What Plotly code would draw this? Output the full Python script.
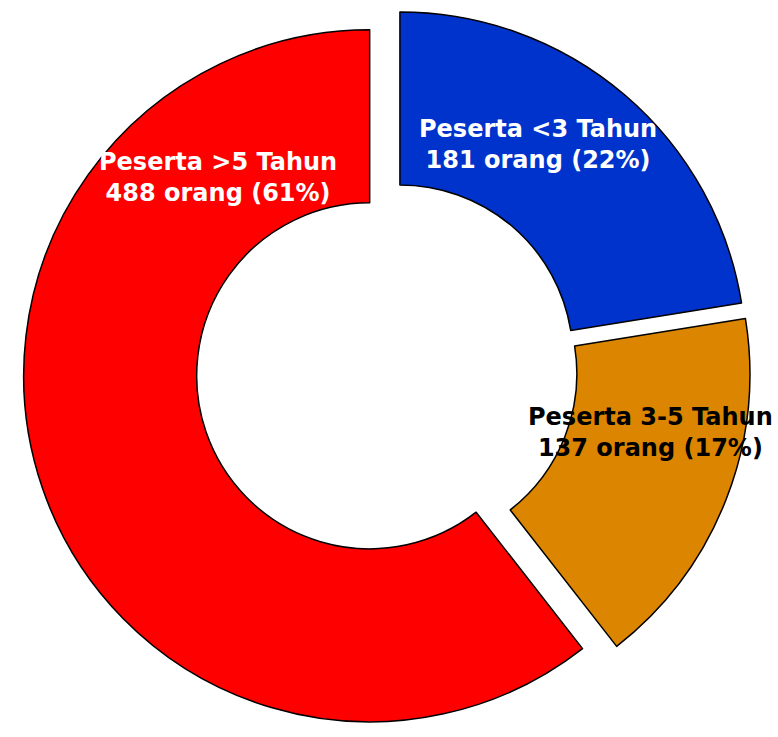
import plotly.graph_objects as go

# -----------------------------------------
# DATA
# -----------------------------------------
labels = ["Peserta <3 Tahun", "Peserta 3-5 Tahun", "Peserta >5 Tahun"]
values = [181, 137, 488]
colors = ["#0033CC", "#DB8500", "#FF0000"]
text_colors = ["white", "black", "white"]

total = sum(values)
percents = [round(v / total * 100) for v in values]


def label_text(name, value, pct):
    name = name.replace("<", "&lt;").replace(">", "&gt;")
    return f"{name}<br>{value} orang ({pct}%)"


# -----------------------------------------
# DONUT
# -----------------------------------------
fig = go.Figure()

fig.add_trace(
    go.Pie(
        labels=labels,
        values=values,
        marker=dict(colors=colors, line=dict(color="black", width=1.5)),
        hole=0.5,
        sort=False,
        direction="clockwise",
        rotation=0,
        pull=[0.04, 0.04, 0.065],
        textinfo="none",
        hoverinfo="label+value+percent",
        domain=dict(x=[0.005, 1.0], y=[0.0, 1.0]),
    )
)

# Slice labels
label_pos = [(0.6915, 0.8033), (0.8355, 0.4138), (0.2802, 0.7598)]
for i in range(len(labels)):
    fig.add_annotation(
        x=label_pos[i][0],
        y=label_pos[i][1],
        xref="paper",
        yref="paper",
        xanchor="center",
        yanchor="middle",
        align="center",
        showarrow=False,
        text=label_text(labels[i], values[i], percents[i]),
        font=dict(family="DejaVu Sans", size=24, color=text_colors[i], weight="bold"),
    )

fig.update_layout(
    width=778,
    height=737,
    margin=dict(l=0, r=0, t=0, b=0),
    paper_bgcolor="white",
    plot_bgcolor="white",
    showlegend=False,
)

# drop the default page margin so the figure sits at the window's corner
fig.write_html(
    "out.html",
    config={"displayModeBar": False},
    post_script="document.body.style.margin = '0px';",
)
